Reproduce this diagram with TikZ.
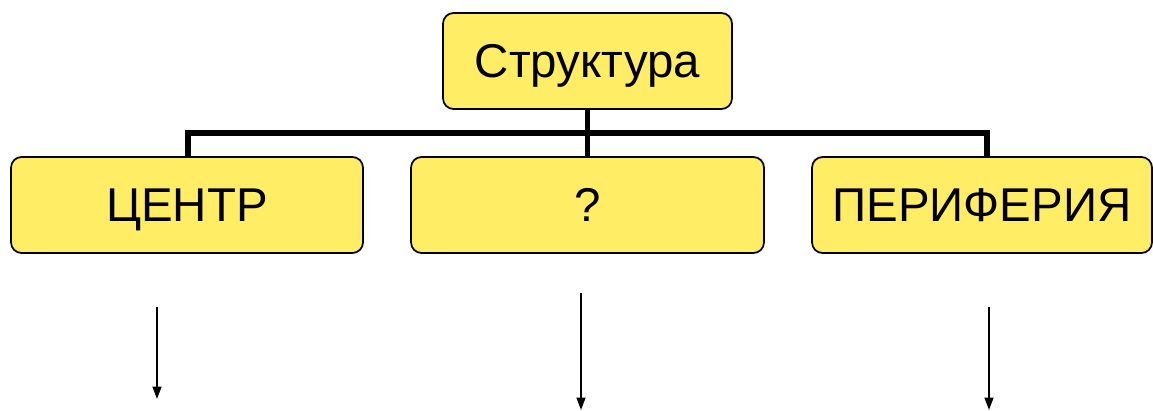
\documentclass[tikz,border=0pt]{standalone}
\usepackage{fontspec}
\setmainfont{Liberation Sans}
\usepackage{xcolor}
\usetikzlibrary{calc,arrows.meta}
\definecolor{boxfill}{HTML}{FFED66}
\definecolor{ink}{HTML}{000000}
\tikzset{
  box/.style={draw=ink, fill=boxfill, rounded corners=6pt, line width=1pt,
    inner sep=0pt, minimum height=1.92cm, text depth=0pt,
    font=\fontsize{27}{32}\selectfont},
  bus/.style={draw=ink, line width=3pt},
  down/.style={-{Triangle[width=5pt,length=7pt]}, draw=ink, line width=1.1pt}
}

\begin{document}
\begin{tikzpicture}[x=0.02cm, y=-0.02cm]
  \useasboundingbox (0,0) rectangle (1153,411);

  \node[box, minimum width=5.78cm] (struct) at (587.5,61) {Структура};
  \node[box, minimum width=7.04cm] (center) at (187,205) {ЦЕНТР};
  \node[box, minimum width=7.06cm] (unknown) at (587.5,205) {?};
  \node[box, minimum width=6.80cm] (periph) at (982,205) {ПЕРИФЕРИЯ};

  % bus from the top box to the three boxes
  \coordinate (hub) at (587.5,133);
  \draw[bus] (struct.south) -- (unknown.north);
  \draw[bus] ([xshift=0.02cm]center.north) |- (hub) -| ([xshift=0.1cm]periph.north);

  \coordinate (c1) at (157,307);
  \coordinate (c2) at (157,399);
  \coordinate (u1) at (581,293);
  \coordinate (u2) at (581,410);
  \coordinate (p1) at (989,307);
  \coordinate (p2) at (989,410);
  \draw[down] (c1) -- (c2);
  \draw[down] (u1) -- (u2);
  \draw[down] (p1) -- (p2);
\end{tikzpicture}
\end{document}
